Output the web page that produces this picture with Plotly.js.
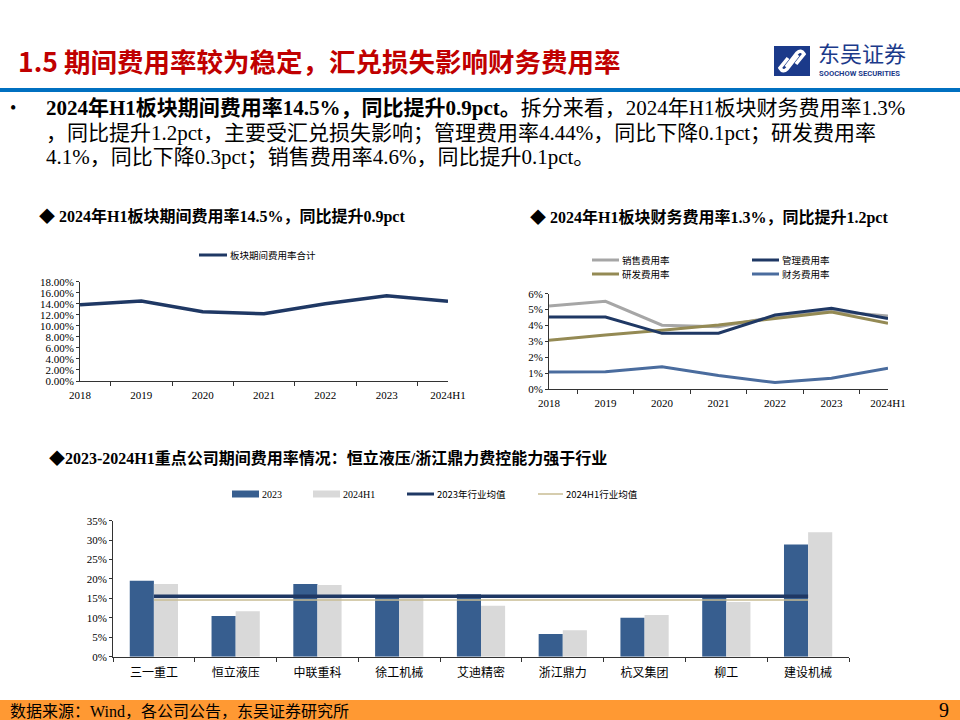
<!DOCTYPE html>
<html>
<head>
<meta charset="utf-8">
<script src="https://cdn.plot.ly/plotly-3.0.1.min.js"></script>
<style>
  html, body { margin: 0; padding: 0; background: #fff; }
  #chart { width: 960px; height: 720px; }
</style>
</head>
<body>
<div id="chart"></div>
<script>
// Chart 1: total period expense ratio (%)
const years = ["2018", "2019", "2020", "2021", "2022", "2023", "2024H1"];
const periodRate = [13.8, 14.5, 12.55, 12.2, 14.0, 15.45, 14.45];

// Chart 2: expense ratio breakdown (%)
const sellingRate = [5.23, 5.52, 4.02, 3.92, 4.55, 4.9, 4.6];
const adminRate = [4.54, 4.54, 3.51, 3.52, 4.66, 5.08, 4.44];
const rdRate = [3.07, 3.41, 3.7, 4.03, 4.45, 4.85, 4.15];
const financeRate = [1.09, 1.1, 1.42, 0.86, 0.42, 0.69, 1.32];

// Chart 3: key companies, period expense ratio (%)
const companies = ["三一重工", "恒立液压", "中联重科", "徐工机械", "艾迪精密", "浙江鼎力", "杭叉集团", "柳工", "建设机械"];
const rate2023 = [19.55, 10.47, 18.7, 15.4, 16.06, 5.84, 10.0, 15.3, 28.9];
const rate2024H1 = [18.7, 11.7, 18.45, 15.2, 13.1, 6.8, 10.7, 14.1, 32.0];
const avg2023 = 15.55;
const avg2024H1 = 14.6;

const SERIF = "'Liberation Serif', 'Times New Roman', 'Noto Sans CJK SC', serif";
const CJK = "'Noto Sans CJK SC', 'Liberation Serif', sans-serif";
const NAVY = "#1F3864";

// pixel -> paper helpers
const W = 960, H = 720;
const px = (x) => x / W;
const py = (y) => 1 - y / H;
const pt = (x, y) => `${px(x)},${py(y)}`;

const traces = [
  // chart 1
  {
    x: years, y: periodRate, xaxis: "x", yaxis: "y",
    type: "scatter", mode: "lines",
    line: { color: NAVY, width: 3.5 }, name: "板块期间费用率合计",
  },
  // chart 2
  {
    x: years, y: sellingRate, xaxis: "x2", yaxis: "y2",
    type: "scatter", mode: "lines",
    line: { color: "#A6A6A6", width: 3 }, name: "销售费用率",
  },
  {
    x: years, y: rdRate, xaxis: "x2", yaxis: "y2",
    type: "scatter", mode: "lines",
    line: { color: "#948A54", width: 3 }, name: "研发费用率",
  },
  {
    x: years, y: adminRate, xaxis: "x2", yaxis: "y2",
    type: "scatter", mode: "lines",
    line: { color: NAVY, width: 3 }, name: "管理费用率",
  },
  {
    x: years, y: financeRate, xaxis: "x2", yaxis: "y2",
    type: "scatter", mode: "lines",
    line: { color: "#4A6C9E", width: 3 }, name: "财务费用率",
  },
  // chart 3
  {
    x: companies, y: rate2023, xaxis: "x3", yaxis: "y3",
    type: "bar", marker: { color: "#375E8F" }, name: "2023",
  },
  {
    x: companies, y: rate2024H1, xaxis: "x3", yaxis: "y3",
    type: "bar", marker: { color: "#D9D9D9" }, name: "2024H1",
  },
  {
    x: [companies[0], companies[companies.length - 1]], y: [avg2023, avg2023],
    xaxis: "x3", yaxis: "y3", type: "scatter", mode: "lines",
    line: { color: NAVY, width: 3.5 }, name: "2023年行业均值",
  },
  {
    x: [companies[0], companies[companies.length - 1]], y: [avg2024H1, avg2024H1],
    xaxis: "x3", yaxis: "y3", type: "scatter", mode: "lines",
    line: { color: "#C9BD93", width: 1.5 }, name: "2024H1行业均值",
  },
];

// common axis styles
function catAxis(d0, d1, anchor, font, standoff) {
  return {
    domain: [px(d0), px(d1)], anchor: anchor, type: "category",
    showline: true, linecolor: "#333", linewidth: 1,
    ticks: "outside", tickson: "boundaries", ticklen: 4, tickcolor: "#333",
    ticklabelstandoff: standoff,
    showgrid: false, zeroline: false, fixedrange: true,
    tickfont: font,
  };
}
function valAxis(top, bottom, anchor, range, dtick, fmt) {
  return {
    domain: [py(bottom), py(top)], anchor: anchor, range: range, dtick: dtick,
    tickformat: fmt, ticksuffix: "%",
    showline: true, linecolor: "#333", linewidth: 1,
    ticks: "outside", ticklen: 3, tickcolor: "#333",
    showgrid: false, zeroline: false, fixedrange: true,
    tickfont: { family: SERIF, size: 11, color: "#000" },
  };
}

const ann = [];
const shapes = [];

function text(x, y, t, size, opts) {
  ann.push(Object.assign({
    xref: "paper", yref: "paper", x: px(x), y: py(y), text: t,
    showarrow: false, xanchor: "left", yanchor: "middle",
    font: { family: SERIF, size: size, color: "#000" },
  }, opts || {}));
}
function legLine(x0, x1, y, color, width, label, size) {
  shapes.push({
    type: "line", xref: "paper", yref: "paper",
    x0: px(x0), x1: px(x1), y0: py(y), y1: py(y),
    line: { color: color, width: width },
  });
  text(x1 + 1, y, label, size, { font: { family: CJK, size: size, color: "#000" } });
}
function legBox(x0, x1, y, color, label) {
  shapes.push({
    type: "rect", xref: "paper", yref: "paper",
    x0: px(x0), x1: px(x1), y0: py(y + 3.5), y1: py(y - 3.5),
    fillcolor: color, line: { width: 0 },
  });
  text(x1 + 1, y, label, 10);
}

// header
text(16, 60, "<b>1.5 期间费用率较为稳定，汇兑损失影响财务费用率</b>", 26.5,
  { font: { family: CJK, size: 26.5, color: "#C00000" } });
shapes.push({
  type: "rect", xref: "paper", yref: "paper",
  x0: 0, x1: 1, y0: py(92), y1: py(88), fillcolor: "#0070C0", line: { width: 0 },
});
// logo
shapes.push({
  type: "rect", xref: "paper", yref: "paper",
  x0: px(774), x1: px(810), y0: py(76), y1: py(46), fillcolor: "#1B3A8A", line: { width: 0 },
});
shapes.push({
  type: "path", xref: "paper", yref: "paper",
  path: `M${pt(786, 67)} L${pt(797, 53)} Q${pt(801, 49)} ${pt(804, 54)} L${pt(796, 64)}`,
  line: { color: "#fff", width: 3.5 },
});
shapes.push({
  type: "path", xref: "paper", yref: "paper",
  path: `M${pt(798, 55)} L${pt(787, 69)} Q${pt(783, 73)} ${pt(780, 68)} L${pt(788, 58)}`,
  line: { color: "#fff", width: 3.5 },
});
text(816, 52, "东吴证券", 22, { font: { family: CJK, size: 22, color: "#1B3A8A" } });
text(817, 73.5, "<b>SOOCHOW SECURITIES</b>", 7.6, { font: { family: "Roboto, 'Liberation Sans', sans-serif", size: 7.6, color: "#1B3A8A" } });

// bullet text
text(8, 108, "•", 18);
text(44, 108, "<b>2024年H1板块期间费用率14.5%，同比提升0.9pct。</b>拆分来看，2024年H1板块财务费用率1.3%", 21);
text(44, 133, "，同比提升1.2pct，主要受汇兑损失影响；管理费用率4.44%，同比下降0.1pct；研发费用率", 21);
text(44, 157, "4.1%，同比下降0.3pct；销售费用率4.6%，同比提升0.1pct。", 21);

// chart titles
text(37, 216, "<b>◆ 2024年H1板块期间费用率14.5%，同比提升0.9pct</b>", 16);
text(528, 217, "<b>◆ 2024年H1板块财务费用率1.3%，同比提升1.2pct</b>", 16);
text(47, 458, "<b>◆2023-2024H1重点公司期间费用率情况：恒立液压/浙江鼎力费控能力强于行业</b>", 16);

// legends
legLine(199, 227, 255, NAVY, 3, "板块期间费用率合计", 9.5);
legLine(592, 619, 260, "#A6A6A6", 3, "销售费用率", 9.5);
legLine(752, 779, 260, NAVY, 3, "管理费用率", 9.5);
legLine(592, 619, 274, "#948A54", 3, "研发费用率", 9.5);
legLine(752, 779, 274, "#4A6C9E", 3, "财务费用率", 9.5);
legBox(232, 259, 494, "#375E8F", "2023");
legBox(313, 340, 494, "#D9D9D9", "2024H1");
legLine(407, 434, 494, NAVY, 3, "2023年行业均值", 9.5);
legLine(538, 563, 494, "#C9BD93", 1.5, "2024H1行业均值", 9.5);

// footer
shapes.push({
  type: "rect", xref: "paper", yref: "paper",
  x0: 0, x1: 1, y0: 0, y1: py(700), fillcolor: "#FF9933", line: { width: 0 },
});
text(8, 711, "数据来源：Wind，各公司公告，东吴证券研究所", 16);
text(951, 710, "9", 20, { xanchor: "right" });

const tickSerif = { family: SERIF, size: 11, color: "#000" };

const layout = {
  width: W, height: H,
  margin: { l: 0, r: 0, t: 0, b: 0 },
  paper_bgcolor: "#fff", plot_bgcolor: "rgba(0,0,0,0)",
  showlegend: false,
  font: { family: SERIF, color: "#000" },
  barmode: "group", bargap: 0.41, bargroupgap: 0,
  xaxis: catAxis(80, 448, "y", tickSerif, 4),
  yaxis: valAxis(281.7, 381, "x", [0, 18], 2, ".2f"),
  xaxis2: catAxis(549, 888, "y2", tickSerif, 3),
  yaxis2: valAxis(293.7, 389.3, "x2", [0, 6], 1, ".0f"),
  xaxis3: catAxis(113, 849, "y3", { family: CJK, size: 12, color: "#000" }, 5),
  yaxis3: valAxis(520.7, 656.7, "x3", [0, 35], 5, ".0f"),
  annotations: ann,
  shapes: shapes,
};

Plotly.newPlot("chart", traces, layout, { displayModeBar: false, staticPlot: true });
</script>
</body>
</html>
